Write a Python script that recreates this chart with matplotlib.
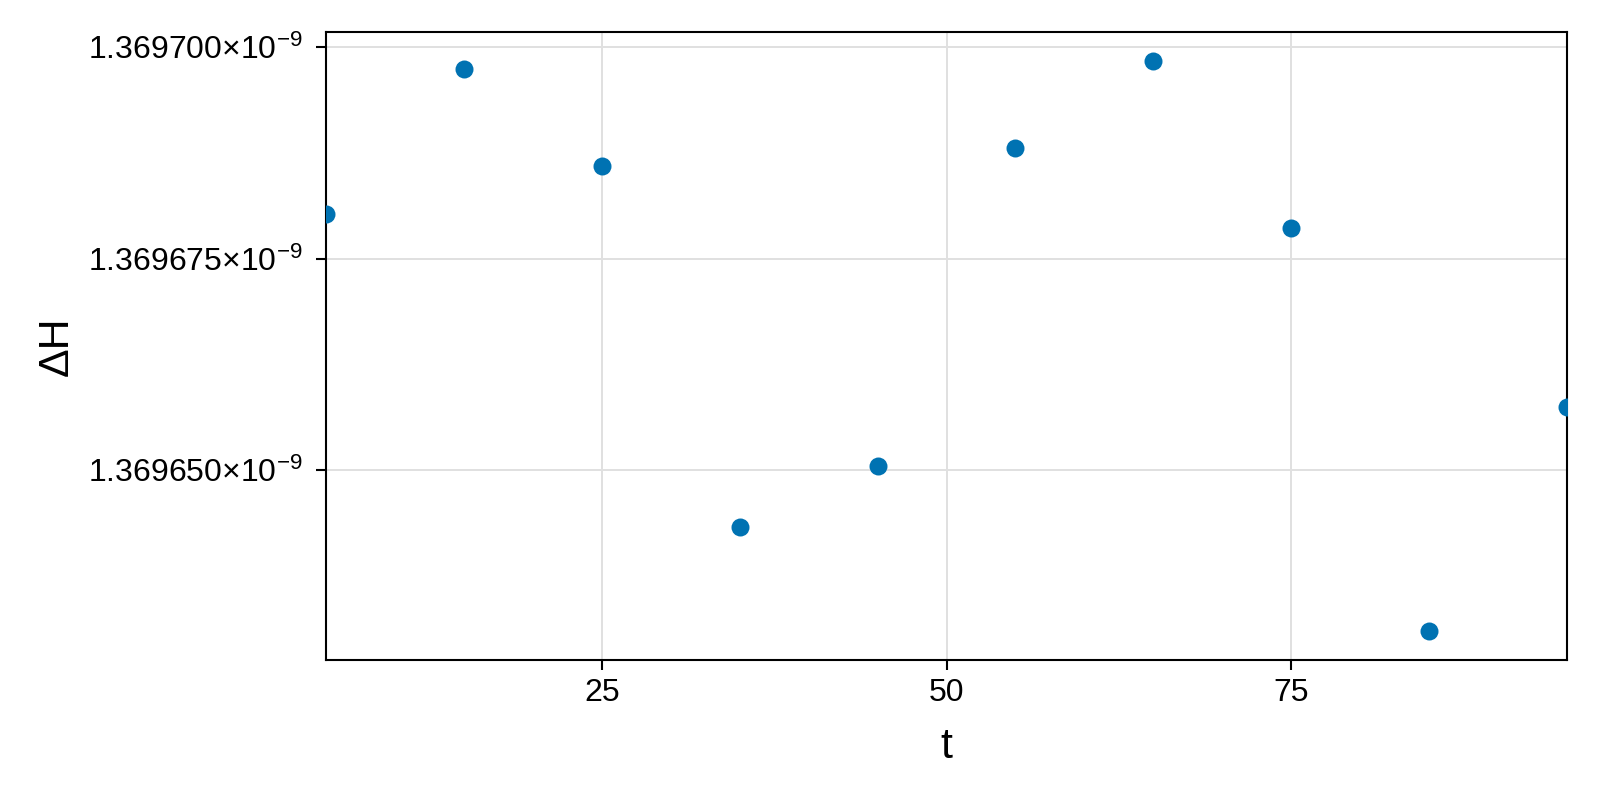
import matplotlib
matplotlib.use("Agg")
import matplotlib.pyplot as plt
from matplotlib.ticker import FixedLocator, FuncFormatter

# Data
t = [5, 15, 25, 35, 45, 55, 65, 75, 85, 95]
dH = [1.36968031e-9, 1.36969746e-9, 1.36968599e-9, 1.36964324e-9, 1.36965048e-9,
      1.36968804e-9, 1.36969843e-9, 1.36967862e-9, 1.36963092e-9, 1.36965749e-9]
xticks = [25, 50, 75]
yticks = [1.369650e-9, 1.369675e-9, 1.369700e-9]
ytick_labels = ["1.369650", "1.369675", "1.369700"]

plt.rcParams['font.family'] = ['Liberation Sans', 'DejaVu Sans']
plt.rcParams['mathtext.fontset'] = 'custom'
plt.rcParams['mathtext.rm'] = 'Liberation Sans'
plt.rcParams['mathtext.it'] = 'Liberation Sans:italic'
plt.rcParams['mathtext.bf'] = 'Liberation Sans:bold'
plt.rcParams['mathtext.default'] = 'regular'

fig = plt.figure(figsize=(16, 8), dpi=100)
ax = fig.add_axes([0.20375, 0.175, 0.775625, 0.785])

ax.scatter(t, dH, s=168, color='#0072B2', linewidths=0, zorder=3)
ax.margins(x=0, y=0.05)

ax.xaxis.set_major_locator(FixedLocator(xticks))
ax.yaxis.set_major_locator(FixedLocator(yticks))
lab = dict(zip(yticks, ytick_labels))
ax.yaxis.set_major_formatter(FuncFormatter(
    lambda v, p: (lab.get(v, f"{v*1e9:.6f}") + r"×10$^{-9}$")))

ax.grid(True, color='#e0e0e0', linewidth=1.44, alpha=1.0)
ax.set_axisbelow(True)
for s in ax.spines.values():
    s.set_linewidth(1.5)
ax.tick_params(axis='both', direction='out', length=7.2, width=1.5,
               labelsize=23)
ax.tick_params(axis='x', pad=6.0)
ax.tick_params(axis='y', pad=10.0)

ax.set_xlabel("t", fontsize=31)
ax.set_ylabel("ΔH", fontsize=31)
ax.xaxis.set_label_coords(0.5, -0.1385)
ax.xaxis.label.set_va('center')
ax.yaxis.set_label_coords(-0.2172, 0.5)
ax.yaxis.label.set_va('center')

fig.savefig("out.png", dpi=100, facecolor='white')
